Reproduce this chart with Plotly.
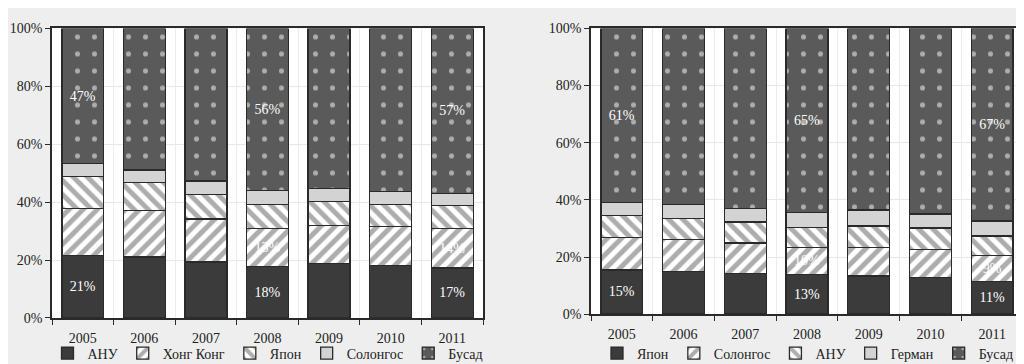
import plotly.graph_objects as go

years = ["2005", "2006", "2007", "2008", "2009", "2010", "2011"]

# Left chart
left_names = ["АНУ", "Хонг Конг", "Япон", "Солонгос", "Бусад"]
left_anu = [21.5, 21.1, 19.3, 17.8, 18.8, 18.2, 17.3]
left_hk = [16.2, 15.9, 14.9, 13.2, 13.2, 13.4, 13.7]
left_jp = [11.2, 9.8, 8.4, 8.2, 8.3, 7.7, 7.8]
left_kr = [4.4, 4.3, 4.7, 4.9, 4.4, 4.3, 4.3]
left_other = [46.7, 48.9, 52.7, 55.9, 55.3, 56.4, 56.9]
left_anu_txt = ["21%", "", "", "18%", "", "", "17%"]
left_hk_txt = ["", "", "", "13%", "", "", "14%"]
left_other_txt = ["47%", "", "", "56%", "", "", "57%"]

# Right chart
right_names = ["Япон", "Солонгос", "АНУ", "Герман", "Бусад"]
right_jp = [15.5, 14.9, 14.3, 13.8, 13.3, 12.8, 11.5]
right_kr = [11.4, 11.3, 10.6, 9.6, 10.1, 9.9, 9.0]
right_us = [7.6, 7.3, 7.4, 6.9, 7.5, 7.4, 6.8]
right_de = [4.5, 4.9, 4.7, 5.3, 5.6, 5.0, 5.3]
right_other = [61.0, 61.6, 63.0, 64.4, 63.5, 64.9, 67.4]
right_jp_txt = ["15%", "", "", "13%", "", "", "11%"]
right_kr_txt = ["", "", "", "10%", "", "", "9%"]
right_other_txt = ["61%", "", "", "65%", "", "", "67%"]

FONT = "'Liberation Serif', 'DejaVu Serif', 'Times New Roman', serif"
DARK = "#3b3b3b"
MID = "#5a5a5a"
LIGHT = "#d3d3d3"
STRIPE = "#5c5c5c"
LINE = "#2a2a2a"

styles = [
    dict(color=DARK, pattern=None),
    dict(color="white", pattern=dict(shape="/", fgcolor=STRIPE, bgcolor="white", size=10, solidity=0.5)),
    dict(color="white", pattern=dict(shape="\\", fgcolor=STRIPE, bgcolor="white", size=10, solidity=0.5)),
    dict(color=LIGHT, pattern=None),
    dict(color=MID, pattern=dict(shape=".", fgcolor="white", bgcolor=MID, size=17, solidity=0.07)),
]

fig = go.Figure()

def add_series(names, values, texts, xa, ya, legend):
    for name, vals, txt, st in zip(names, values, texts, styles):
        marker = dict(color=st["color"], line=dict(color=LINE, width=1.3))
        if st["pattern"] is not None:
            marker["pattern"] = st["pattern"]
        fig.add_trace(go.Bar(
            x=years, y=vals, name=name, marker=marker,
            text=txt, textposition="inside", insidetextanchor="middle",
            textangle=0, constraintext="none",
            textfont=dict(color="white", size=14, family=FONT),
            xaxis=xa, yaxis=ya, legend=legend, hoverinfo="skip",
        ))

empty = [""] * 7
add_series(left_names, [left_anu, left_hk, left_jp, left_kr, left_other],
           [left_anu_txt, left_hk_txt, empty, empty, left_other_txt], "x", "y", "legend")
add_series(right_names, [right_jp, right_kr, right_us, right_de, right_other],
           [right_jp_txt, right_kr_txt, empty, empty, right_other_txt], "x2", "y2", "legend2")

W, H = 1024, 364
def xd(a, b):
    return [a / W, b / W]
def yd(bottom, top):
    return [(H - bottom) / H, (H - top) / H]

xcommon = dict(type="category", tickson="boundaries", ticks="outside", ticklen=5,
               tickcolor=LINE, showline=True, linecolor=LINE, linewidth=1.5, mirror=True,
               showgrid=True, gridcolor="#ececec", gridwidth=1, ticklabelstandoff=6,
               tickfont=dict(family=FONT, size=14, color="#222"))
ycommon = dict(range=[0, 100], dtick=20, ticksuffix="%", ticks="outside", ticklen=5,
               tickcolor=LINE, showline=True, linecolor=LINE, linewidth=1.5, mirror=True,
               showgrid=True, gridcolor="#e8e8e8", gridwidth=1, zeroline=False,
               tickfont=dict(family=FONT, size=14, color="#222"))

legcommon = dict(orientation="h", xanchor="center", yanchor="middle", y=(H - 353) / H,
                 font=dict(family=FONT, size=14, color="#222"), bgcolor="rgba(0,0,0,0)",
                 itemwidth=30, traceorder="normal")

fig.update_layout(
    width=W, height=H,
    margin=dict(l=0, r=0, t=0, b=0),
    paper_bgcolor="#eeeeee", plot_bgcolor="white",
    font=dict(family=FONT),
    barmode="stack", bargap=0.32,
    xaxis=dict(domain=xd(44, 475), anchor="y", **xcommon),
    yaxis=dict(domain=yd(316, 14), anchor="x", **ycommon),
    xaxis2=dict(domain=xd(583, 1015), anchor="y2", **xcommon),
    yaxis2=dict(domain=yd(312, 14), anchor="x2", **ycommon),
    legend=dict(x=260 / W, **legcommon),
    legend2=dict(x=800 / W, **legcommon),
    showlegend=True,
)

fig.write_html("out.html")
